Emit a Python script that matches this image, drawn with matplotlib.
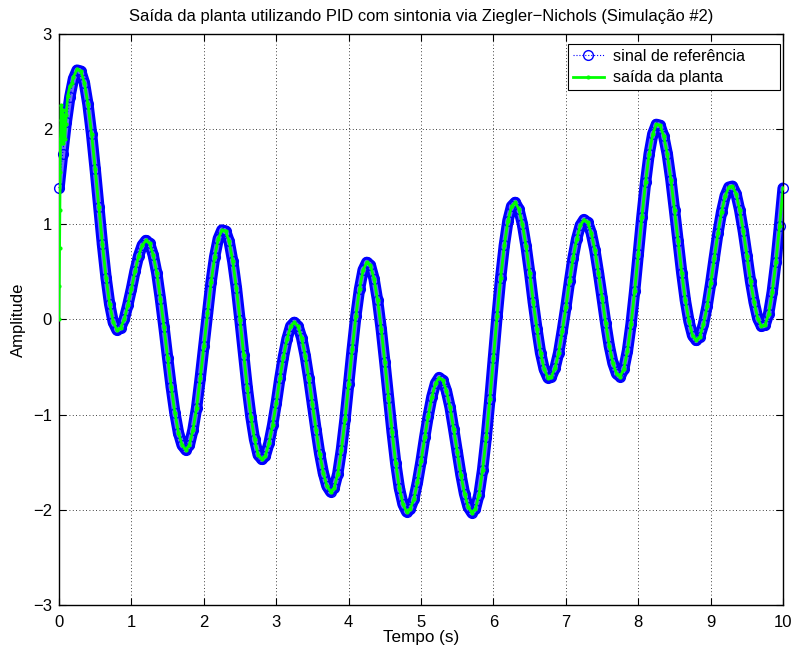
import numpy as np
import matplotlib
matplotlib.use("Agg")
import matplotlib.pyplot as plt

plt.rcParams['font.family'] = ['Liberation Sans', 'DejaVu Sans']

# Reference signal sampled every 0.05 s from 0 to 10 s
t_ref = np.linspace(0.0, 10.0, 201)
referencia = [
    1.38, 1.74, 2.07, 2.34, 2.53, 2.62, 2.61, 2.49, 2.26, 1.95,
    1.58, 1.18, 0.79, 0.44, 0.16, -0.03, -0.11, -0.09, 0.00, 0.15,
    0.32, 0.51, 0.67, 0.78, 0.83, 0.80, 0.68, 0.49, 0.22, -0.08,
    -0.40, -0.71, -0.98, -1.19, -1.32, -1.37, -1.32, -1.16, -0.93, -0.62,
    -0.28, 0.07, 0.39, 0.66, 0.85, 0.94, 0.93, 0.82, 0.61, 0.33,
    -0.01, -0.37, -0.72, -1.02, -1.26, -1.42, -1.47, -1.43, -1.30, -1.11,
    -0.88, -0.62, -0.39, -0.20, -0.07, -0.03, -0.07, -0.19, -0.38, -0.62,
    -0.89, -1.16, -1.41, -1.61, -1.75, -1.81, -1.77, -1.62, -1.37, -1.05,
    -0.68, -0.31, 0.04, 0.32, 0.52, 0.60, 0.57, 0.43, 0.20, -0.10,
    -0.45, -0.82, -1.18, -1.51, -1.77, -1.94, -2.02, -1.99, -1.89, -1.71,
    -1.49, -1.24, -1.01, -0.81, -0.67, -0.61, -0.64, -0.75, -0.92, -1.15,
    -1.39, -1.63, -1.83, -1.97, -2.03, -1.99, -1.84, -1.58, -1.24, -0.84,
    -0.40, 0.04, 0.44, 0.78, 1.04, 1.19, 1.23, 1.16, 1.00, 0.77,
    0.49, 0.18, -0.10, -0.35, -0.52, -0.61, -0.60, -0.51, -0.35, -0.12,
    0.13, 0.40, 0.65, 0.85, 0.99, 1.05, 1.02, 0.91, 0.73, 0.49,
    0.23, -0.04, -0.28, -0.46, -0.57, -0.60, -0.52, -0.33, -0.05, 0.30,
    0.69, 1.08, 1.44, 1.74, 1.95, 2.05, 2.04, 1.93, 1.74, 1.47,
    1.15, 0.82, 0.49, 0.20, -0.02, -0.17, -0.22, -0.18, -0.05, 0.14,
    0.38, 0.65, 0.91, 1.13, 1.30, 1.39, 1.40, 1.32, 1.15, 0.93,
    0.67, 0.40, 0.18, 0.01, -0.07, -0.06, 0.06, 0.29, 0.60, 0.98,
    1.38,
]

# Plant output: start-up transient, then it tracks the reference
t_transiente = [0.0, 0.004, 0.008, 0.012, 0.016, 0.02, 0.025, 0.03, 0.04,
                0.05, 0.06, 0.07, 0.08, 0.09, 0.10, 0.12, 0.15, 0.18, 0.20,
                0.25]
y_transiente = [0.0, 0.35, 0.75, 1.15, 1.55, 1.90, 2.10, 2.25, 1.85,
                2.20, 1.85, 2.15, 1.90, 2.05, 2.15, 2.35, 2.45, 2.48, 2.55,
                2.63]
t_saida = np.concatenate([t_transiente, t_ref[6:]])
saida = np.concatenate([y_transiente, referencia[6:]])

titulo = "Saída da planta utilizando PID com sintonia via Ziegler\u2212Nichols (Simulação #2)"
xticks = list(range(0, 11))
yticks = [-3, -2, -1, 0, 1, 2, 3]

fig = plt.figure(figsize=(7.94, 6.52), dpi=100)
ax = fig.add_axes([0.0743, 0.0721, 0.912, 0.8758])

# densely packed circle markers render as a thick blue tube
ax.plot(t_ref, referencia, '-', color='blue', linewidth=8.2,
        solid_capstyle='round', solid_joinstyle='round', zorder=2)
ax.plot(t_ref, referencia, '-', color='#6a6aff', linewidth=3.8,
        solid_capstyle='round', solid_joinstyle='round', zorder=2.1)
ax.plot(t_ref, referencia, linestyle=':', color='blue', marker='o',
        markerfacecolor='none', markeredgecolor='blue', markersize=7,
        markeredgewidth=1.0, linewidth=0.8, label='sinal de referência',
        zorder=2.2, clip_on=False)
ax.plot(t_saida, saida, linestyle='-', color='#00ff00', marker='.',
        markersize=4, linewidth=2.0, label='saída da planta', zorder=3)

ax.set_xlim(0, 10)
ax.set_ylim(-3, 3)
ax.set_xticks(xticks)
ax.set_yticks(yticks)
ax.tick_params(direction='in', top=True, right=True, length=5,
               labelsize=12, width=0.8)
ax.tick_params(axis='x', pad=7)
ax.tick_params(axis='y', pad=5)
ax.grid(True, color='black', linestyle=(0, (1, 3)), linewidth=0.6)
for s in ax.spines.values():
    s.set_linewidth(1.0)

ax.set_title(titulo, fontsize=11.9, pad=9)
ax.set_xlabel("Tempo (s)", fontsize=12.3, labelpad=0)
ax.set_ylabel("Amplitude", fontsize=12, labelpad=5)

leg = ax.legend(loc='upper left', mode='expand', fontsize=11.6,
                fancybox=False, edgecolor='black', framealpha=1,
                borderpad=0.3, handlelength=1.9, handletextpad=0.6,
                labelspacing=0.4, borderaxespad=0.0,
                bbox_to_anchor=(0.703, 0.907, 0.293, 0.0755))
leg.get_frame().set_linewidth(0.8)

fig.savefig("out.png", dpi=100)
